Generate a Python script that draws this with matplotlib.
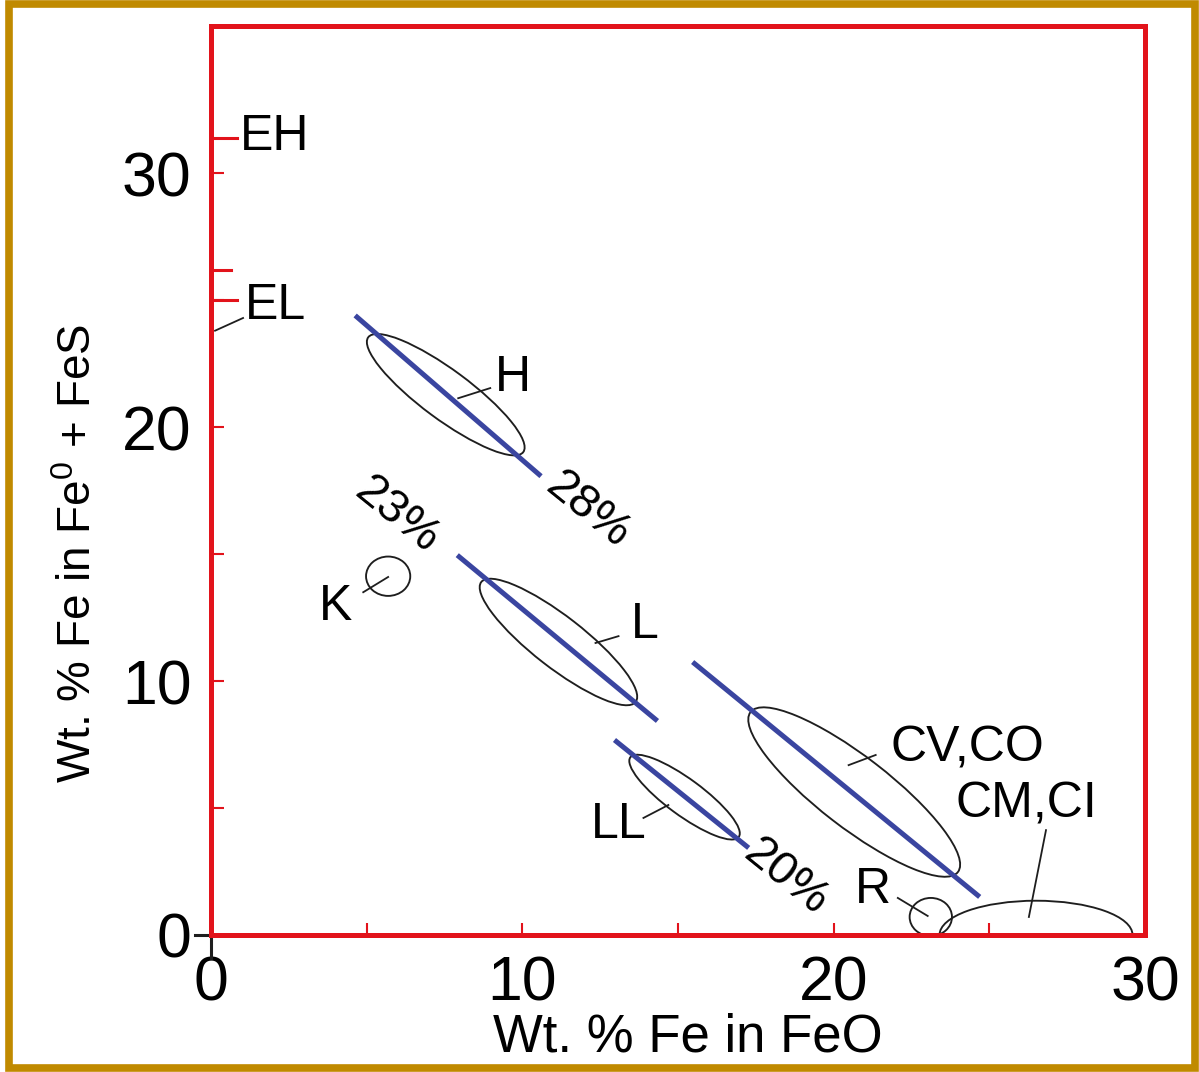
import matplotlib
matplotlib.use("Agg")
import matplotlib.pyplot as plt
import numpy as np
from matplotlib.patches import Ellipse, Rectangle
from matplotlib.transforms import Affine2D

plt.rcParams['font.family'] = ['Liberation Sans', 'DejaVu Sans']
plt.rcParams['mathtext.fontset'] = 'custom'
plt.rcParams['mathtext.rm'] = 'Liberation Sans'

# lignes de fer total constant (extremites en donnees)
lignes_x0 = [4.63, 7.91, 12.96, 15.47]
lignes_y0 = [24.4, 14.96, 7.68, 10.75]
lignes_x1 = [10.6, 14.34, 17.27, 24.69]
lignes_y1 = [18.07, 8.43, 3.43, 1.50]

# ellipses des groupes: centre, demi-diametre long (a) et court (b)
groupes = ["H", "L", "LL", "CV,CO"]
ell_cx = [7.54, 11.16, 15.21, 20.66]
ell_cy = [21.28, 11.54, 5.43, 5.63]
ell_ax = [2.49, 2.48, 1.74, 3.33]
ell_ay = [-2.26, -2.36, -1.57, -3.15]
ell_bx = [0.47, 0.50, 0.35, 0.70]
ell_by = [0.78, 0.80, 0.57, 1.10]

# petits domaines (K, R, CM/CI)
cercles = ["K", "R", "CM,CI"]
cer_x = [5.69, 23.12, 26.5]
cer_y = [14.13, 0.71, 0.0]
cer_w = [1.42, 1.36, 6.2]
cer_h = [1.55, 1.50, 2.7]

# etiquettes
etiq = ["EH", "EL", "H", "L", "K", "LL", "CV,CO", "CM,CI", "R"]
etiq_x = [0.93, 1.09, 9.7, 13.95, 3.99, 13.09, 21.83, 23.92, 21.25]
etiq_y = [31.42, 24.76, 21.93, 12.2, 12.91, 4.33, 7.36, 5.12, 1.77]
etiq_ha = ["left", "left", "center", "center", "center", "center", "left", "left", "center"]

pourcents = ["28%", "23%", "20%"]
pc_x = [12.12, 5.98, 18.46]
pc_y = [16.73, 16.54, 2.28]

# traits de rappel
rappel_x0 = [0.13, 7.94, 12.35, 4.89, 13.89, 20.48, 26.82, 22.06]
rappel_y0 = [23.8, 21.14, 11.5, 13.5, 4.61, 6.69, 4.13, 1.46]
rappel_x1 = [1.03, 8.97, 13.09, 5.69, 14.69, 21.35, 26.27, 23.02]
rappel_y1 = [24.3, 21.54, 11.77, 14.1, 5.12, 7.09, 0.71, 0.75]

rouge = '#e2131b'
bleu = '#3a45a0'
trait = '#1e1e1e'

fig = plt.figure(figsize=(11.99, 10.72), dpi=100)
ax = fig.add_axes([211/1199, 137/1072, 934/1199, 909/1072])
ax.set_xlim(0, 30)
ax.set_ylim(0, 35.8)

for s in ax.spines.values():
    s.set_color(rouge)
    s.set_linewidth(3.6)

ax.set_xticks([0, 10, 20, 30])
ax.set_xticks([5, 15, 25], minor=True)
ax.set_yticks([0, 10, 20, 30])
ax.set_yticks([5, 15, 25], minor=True)
ax.tick_params(which='both', direction='in', color=rouge, width=1.5, length=9,
               labelsize=45, labelcolor='black')
ax.tick_params(axis='x', pad=14)
ax.tick_params(axis='y', pad=14)

# repere d'origine qui depasse
ax.plot([0, 0], [0, -0.9], color=trait, lw=2.2, clip_on=False)
ax.plot([0, -0.5], [0, 0], color=trait, lw=2.2, clip_on=False)

# marques EH / EL sur l'axe
ax.plot([0, 0.85], [31.4, 31.4], color=rouge, lw=2.2)
ax.plot([0, 0.65], [26.2, 26.2], color=rouge, lw=2.2)
ax.plot([0, 0.85], [25.0, 25.0], color=rouge, lw=2.2)

for i in range(len(lignes_x0)):
    ax.plot([lignes_x0[i], lignes_x1[i]], [lignes_y0[i], lignes_y1[i]],
            color=bleu, lw=3.6, solid_capstyle='butt', zorder=3)

for i in range(len(groupes)):
    m = Affine2D(np.array([[ell_ax[i], ell_bx[i], ell_cx[i]],
                           [ell_ay[i], ell_by[i], ell_cy[i]],
                           [0, 0, 1]]))
    e = Ellipse((0, 0), 2, 2, fill=False, ec=trait, lw=1.35,
                transform=m + ax.transData, zorder=2)
    ax.add_patch(e)

for i in range(len(cercles)):
    ax.add_patch(Ellipse((cer_x[i], cer_y[i]), cer_w[i], cer_h[i],
                         fill=False, ec=trait, lw=1.35, zorder=2))

for i in range(len(rappel_x0)):
    ax.plot([rappel_x0[i], rappel_x1[i]], [rappel_y0[i], rappel_y1[i]],
            color=trait, lw=1.3)

for i in range(len(etiq)):
    ax.text(etiq_x[i], etiq_y[i], etiq[i], fontsize=36, ha=etiq_ha[i], va='center')

for i in range(len(pourcents)):
    ax.text(pc_x[i], pc_y[i], pourcents[i], fontsize=34, ha='center', va='center',
            rotation=-39, rotation_mode='anchor')

ax.set_xlabel("Wt. % Fe in FeO", fontsize=38)
ax.xaxis.set_label_coords(0.511, -0.085)
ax.set_ylabel(r"Wt. % Fe in Fe$^{\mathrm{0}}$ + FeS", fontsize=33)
ax.yaxis.set_label_coords(-0.118, 0.42)

# cadre dore autour de la figure
fig.add_artist(Rectangle((9/1199, 4/1072), 1186/1199, 1064/1072, transform=fig.transFigure,
                         fill=False, ec='#c08a00', lw=5.5))

fig.savefig("out.png", dpi=100)
